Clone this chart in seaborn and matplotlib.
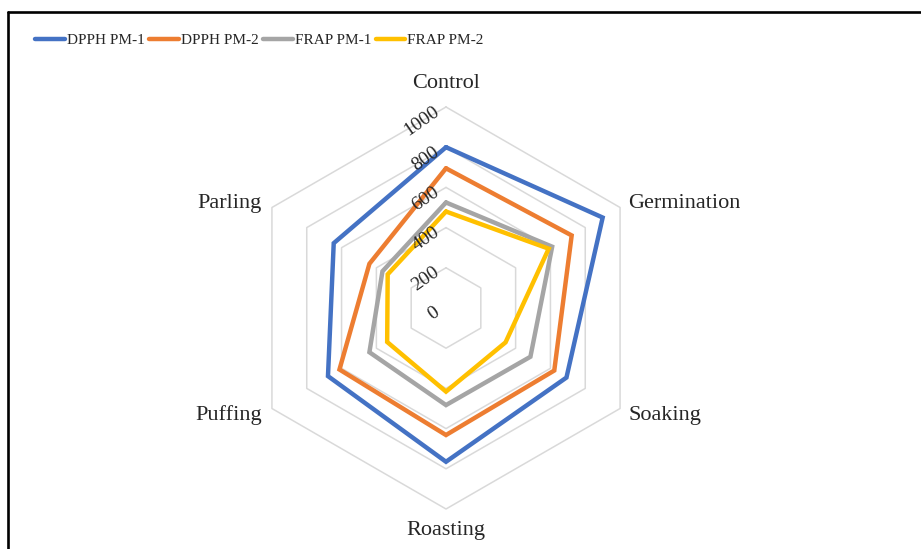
import numpy as np
import pandas as pd
import matplotlib
matplotlib.use('Agg')
import matplotlib.pyplot as plt
import matplotlib.transforms as mtransforms
from matplotlib.lines import Line2D
import seaborn as sns

# categories (clockwise from top) and series values
categories = ['Control', 'Germination', 'Soaking', 'Roasting', 'Puffing', 'Parling']
dpph_pm1 = [800, 900, 692, 765, 678, 645]
dpph_pm2 = [695, 722, 622, 632, 612, 440]
frap_pm1 = [525, 610, 485, 483, 440, 365]
frap_pm2 = [480, 590, 342, 416, 338, 335]
series_names = ['DPPH PM-1', 'DPPH PM-2', 'FRAP PM-1', 'FRAP PM-2']
ticks = [0, 200, 400, 600, 800, 1000]

colors = ['#4472C4', '#ED7D31', '#A5A5A5', '#FFC000']

sns.set_style('white')
plt.rcParams['font.family'] = ['Liberation Serif', 'DejaVu Serif']

n = len(categories)
angles = np.linspace(0, 2 * np.pi, n, endpoint=False)
closed = np.append(angles, 2 * np.pi)

# long table, polygons closed by repeating first point
rows = []
for name, vals in zip(series_names, [dpph_pm1, dpph_pm2, frap_pm1, frap_pm2]):
    vv = list(vals) + [vals[0]]
    for i, (a, v) in enumerate(zip(closed, vv)):
        rows.append({'series': name, 'angle': a, 'value': v, 'order': i})
df = pd.DataFrame(rows)

fig = plt.figure(figsize=(9.21, 5.49), dpi=100)
ax = fig.add_axes([245 / 921, 1 - 509 / 549, 402 / 921, 402 / 549], projection='polar')
ax.set_theta_zero_location('N')
ax.set_theta_direction(-1)
ax.set_ylim(0, 1000)
ax.grid(False)
ax.set_xticks([])
ax.set_yticks([])
ax.spines['polar'].set_visible(False)
ax.patch.set_visible(False)

# hexagonal grid
for t in ticks[1:]:
    ax.plot(closed, [t] * len(closed), color='#d9d9d9', lw=1.1, zorder=0, clip_on=False)

sns.lineplot(data=df, x='angle', y='value', hue='series', palette=colors,
             sort=False, estimator=None, lw=3.2, legend=False, ax=ax,
             solid_joinstyle='miter', clip_on=False)
ax.set_xlabel('')
ax.set_ylabel('')

# category labels
offsets = [(0, 24, 'center'), (8, 4, 'left'), (8, -7, 'left'),
           (0, -22, 'center'), (-10, -7, 'right'), (-10, 4, 'right')]
for a, lab, (dx, dy, ha) in zip(angles, categories, offsets):
    tr = mtransforms.offset_copy(ax.transData, fig=fig, x=dx, y=dy, units='dots')
    ax.text(a, 1000, lab, transform=tr, ha=ha, va='center', fontsize=16, color='#262626')

# value tick labels
for t in ticks:
    tr = mtransforms.offset_copy(ax.transData, fig=fig, x=-8, y=-3, units='dots')
    ax.text(0, t, str(t), transform=tr, ha='right', va='center', rotation=35,
            rotation_mode='anchor', fontsize=14, color='#262626')

handles = [Line2D([], [], color=c, lw=3.2) for c in colors]
fig.legend(handles, series_names, loc='center left', bbox_to_anchor=(35 / 921, 1 - 40 / 549),
           ncol=4, frameon=False, fontsize=11, handlelength=1.95, handletextpad=0.12,
           columnspacing=0.3, borderpad=0, borderaxespad=0)

# partial frame (top and left)
fig.add_artist(Line2D([8 / 921, 1], [1 - 11.5 / 549, 1 - 11.5 / 549], color='black', lw=1.9,
                      transform=fig.transFigure))
fig.add_artist(Line2D([8 / 921, 8 / 921], [0, 1 - 11.5 / 549], color='black', lw=1.9,
                      transform=fig.transFigure))

fig.savefig('out.png', dpi=100)
